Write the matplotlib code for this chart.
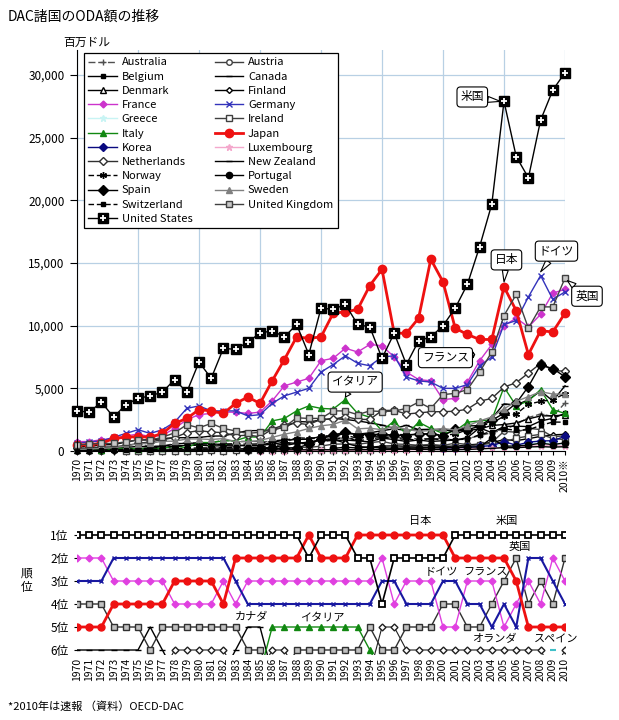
import numpy as np
import matplotlib
matplotlib.use('Agg')
import matplotlib.pyplot as plt
from matplotlib.ticker import FuncFormatter

plt.rcParams['font.family'] = ['Noto Sans CJK JP', 'DejaVu Sans']

years = list(range(1970, 2011))
year_labels = [str(y) for y in years[:-1]] + ['2010※']
N = None

# net ODA, million US$
australia = [210,200,290,290,430,550,380,400,590,630, 670,650,880,750,780,750,750,630,1100,1020,
             960,1050,1020,950,1090,1190,1070,1060,960,980, 990,870,990,1220,1460,1680,2120,2670,2950,2760, 3830]
austria = [10,10,20,40,60,80,50,110,150,130, 180,220,240,160,180,250,200,200,300,280,
           390,550,560,540,660,770,560,530,460,530, 440,630,520,510,680,1570,1500,1810,1710,1140, 1210]
belgium = [120,150,190,230,270,380,340,370,540,640, 600,580,500,480,430,440,550,690,600,700,
           890,830,870,810,730,1030,910,760,880,760, 820,870,1070,1850,1460,1960,1980,1950,2390,2610, 3000]
canada = [340,350,490,510,710,880,890,990,1060,1060, 1080,1190,1200,1430,1620,1630,1690,1890,2350,2320,
          2470,2600,2520,2400,2250,2070,1800,2050,1710,1710, 1740,1530,2000,2030,2600,3760,3680,4080,4790,4000, 5200]
denmark = [60,70,100,130,170,210,210,260,390,460, 480,400,420,400,450,440,700,860,920,940,
           1170,1200,1390,1340,1450,1620,1770,1640,1700,1730, 1660,1630,1640,1750,2040,2110,2240,2560,2800,2810, 2870]
finland = [10,10,20,30,40,50,50,50,60,90, 110,140,140,150,180,210,310,430,610,710,
           850,930,630,360,290,390,410,380,400,420, 370,390,460,560,680,900,830,980,1170,1290, 1330]
france = [750,750,900,1000,1200,1350,1150,1250,1800,2500, 2900,3000,3100,3100,3000,3100,4000,5200,5500,5800,
          7200,7400,8200,7900,8500,8400,7500,6300,5700,5600, 4100,4200,5500,7200,8500,10000,10600,9900,10900,12600, 12900]
germany = [600,730,800,1100,1400,1700,1400,1700,2300,3400, 3600,3200,3200,3200,2800,2900,3800,4400,4700,5000,
           6300,6900,7600,7000,6800,7500,7600,5900,5600,5500, 5000,5000,5300,6800,7500,10100,10400,12300,14000,12100, 12700]
greece = [N]*29 + [190, 230,200,280,360,470,380,420,500,700,610, 510]
ireland = [N,N,N,N,10,10,10,10,10,30, 30,50,30,40,40,40,60,50,60,50,
           60,70,70,80,110,150,180,190,200,250, 230,290,400,500,610,720,1020,1190,1330,1010, 900]
italy = [150,180,100,200,220,180,230,200,380,270, 680,670,810,830,1130,1100,2400,2600,3200,3600,
         3400,3350,4100,3000,2700,1600,2400,1300,2300,1800, 1400,1600,2300,2400,2500,5100,3600,4000,4900,3300, 3000]
japan = [460,510,610,1000,1100,1150,1100,1400,2200,2600, 3300,3200,3000,3800,4300,3800,5600,7300,9100,9000,
         9100,11000,11100,11300,13200,14500,9400,9400,10600,15300, 13500,9800,9300,8900,8900,13100,11200,7700,9600,9500, 11000]
korea = [N]*30 + [210,260,280,370,420,750,460,700,800,820, 1170]
luxembourg = [N]*15 + [10,20,20,30,40, 50,60,70,60,70,70,80,100,110,120,
                       120,140,150,190,240,260,290,380,420,420, 400]
netherlands = [200,220,310,320,440,600,730,900,1070,1470, 1630,1510,1470,1200,1270,1140,1740,2100,2230,2100,
               2540,2520,2750,2520,2520,3230,3250,2950,3040,3130, 3140,3170,3340,3970,4200,5100,5450,6220,6990,6430, 6360]
new_zealand = [10,20,30,30,40,70,50,50,60,70, 70,70,70,60,60,50,80,90,100,90,
               100,100,100,100,110,120,120,150,130,130, 110,110,120,170,210,270,260,320,350,310, 340]
norway = [40,40,60,90,130,180,220,300,360,430, 490,470,560,580,540,570,800,890,990,920,
          1210,1180,1270,1010,1140,1240,1310,1310,1320,1370, 1260,1350,1700,2040,2200,2790,2950,3730,3960,4090, 4580]
portugal = [N]*21 + [210,300,240,310,260,220,250,260,280, 270,270,320,320,1030,380,400,470,620,510, 650]
spain = [N]*14 + [140,170,200,230,240,540, 970,1260,1520,1300,1310,1350,1250,1230,1380,1360,
                  1200,1740,1710,1960,2440,3020,3810,5140,6870,6580, 5920]
sweden = [120,160,200,270,400,570,610,780,780,960, 960,920,990,750,740,840,1090,1340,1530,1800,
          2010,2120,2460,1770,1820,1700,1970,1730,1570,1630, 1800,1670,2010,2400,2720,3360,3960,4340,4730,4550, 4530]
switzerland = [30,30,70,70,70,100,110,120,170,210, 250,240,250,320,290,300,420,550,620,560,
               750,860,1140,790,980,1080,1030,910,900,980, 890,910,940,1300,1550,1770,1650,1690,2040,2310, 2300]
uk = [480,560,600,600,730,900,870,1100,1450,2100, 1850,2200,1800,1600,1400,1500,1700,1900,2650,2600,
      2600,3200,3200,2900,3200,3150,3180,3400,3900,3400, 4500,4600,4900,6300,7900,10800,12500,9800,11500,11500, 13800]
us = [3200,3100,3900,2700,3700,4200,4400,4700,5700,4700, 7100,5800,8200,8100,8700,9400,9600,9100,10100,7700,
      11400,11300,11700,10100,9900,7400,9400,6900,8800,9100, 10000,11400,13300,16300,19700,27900,23500,21800,26400,28800, 30200]

# ranking among DAC donors (7 = just outside the top six)
rank_us = [1]*19 + [2] + [1]*3 + [2]*2 + [4] + [2]*5 + [1]*10
rank_japan = [5]*3 + [4]*5 + [3]*4 + [4] + [2]*6 + [1] + [2]*3 + [1]*8 + [2]*5 + [3] + [5]*4
rank_france = [2]*3 + [3]*5 + [4]*4 + [3] + [4] + [3]*11 + [2] + [4] + [3]*3 + [5]*2 + [3]*3 + [5] + [4] + [3] + [4] + [2] + [3]
rank_germany = [3]*3 + [2]*10 + [3] + [4]*11 + [3]*2 + [4]*3 + [3]*2 + [4]*2 + [5] + [4] + [5] + [2]*2 + [3] + [4]
rank_uk = [4]*3 + [5]*3 + [6] + [5]*7 + [6]*2 + [7]*2 + [6]*6 + [5] + [6]*2 + [5]*3 + [4]*2 + [5]*2 + [4] + [3] + [2] + [4] + [3] + [4] + [2]
rank_italy = [N]*15 + [7] + [5]*8 + [6] + [7] + [N]*15
rank_canada = [6]*6 + [5] + [6] + [7] + [N]*3 + [7] + [6] + [5]*2 + [7] + [N]*24
rank_netherlands = [N]*7 + [7] + [6]*5 + [7]*3 + [6]*2 + [7]*7 + [5]*2 + [6]*12 + [7] + [6]
rank_spain = [N]*39 + [6] + [N]


def arr(v):
    return np.array([np.nan if x is None else x for x in v], dtype=float)


fig = plt.figure(figsize=(6.19, 7.2), dpi=100)
W, H = 619.0, 720.0

# ---------------- main chart ----------------
ax = fig.add_axes([77/W, 1-451/H, 488/W, 401/H])

series = [
    ('Australia', australia, dict(color='#505050', ls=(0, (5, 2)), marker='+', ms=4)),
    ('Austria', austria, dict(color='#404040', marker='o', ms=4, mfc='white')),
    ('Belgium', belgium, dict(color='black', marker='s', ms=3.5)),
    ('Canada', canada, dict(color='black', marker='_', ms=5)),
    ('Denmark', denmark, dict(color='black', marker='^', ms=5, mfc='white')),
    ('Finland', finland, dict(color='black', marker='D', ms=3, mfc='white')),
    ('France', france, dict(color='#CC33CC', marker='D', ms=3.5)),
    ('Germany', germany, dict(color='#3333BB', marker='x', ms=4)),
    ('Greece', greece, dict(color='#C8F4F4', marker='*', ms=5)),
    ('Ireland', ireland, dict(color='#404040', marker='s', ms=4.5, mfc='white')),
    ('Italy', italy, dict(color='#118811', marker='^', ms=5)),
    ('Japan', japan, dict(color='#EE1111', marker='o', ms=6, lw=2)),
    ('Korea', korea, dict(color='#0A0A80', marker='D', ms=4.5)),
    ('Luxembourg', luxembourg, dict(color='#F4A8CC', marker='*', ms=5)),
    ('Netherlands', netherlands, dict(color='#303030', marker='D', ms=4, mfc='white')),
    ('New Zealand', new_zealand, dict(color='black', marker='_', ms=5)),
    ('Norway', norway, dict(color='black', ls=(0, (4, 2)), marker=(6, 2, 0), ms=5)),
    ('Portugal', portugal, dict(color='black', marker='o', ms=4.5)),
    ('Spain', spain, dict(color='black', marker='D', ms=5)),
    ('Sweden', sweden, dict(color='#808080', marker='^', ms=5)),
    ('Switzerland', switzerland, dict(color='black', ls=(0, (4, 2)), marker='s', ms=2.5)),
    ('United Kingdom', uk, dict(color='#404040', marker='s', ms=4.5, mfc='#C8C8C8')),
]

handles = []
for name, vals, st in series:
    st = dict(st)
    st.setdefault('lw', 1)
    h, = ax.plot(years, arr(vals), label=name, clip_on=False, **st)
    handles.append(h)

# United States: black square with a white cross
us_line, = ax.plot(years, us, color='black', lw=1, marker='s', ms=7.5, clip_on=False, zorder=5)
us_plus, = ax.plot(years, us, ls='none', marker='+', ms=5, mew=1.3, color='white', clip_on=False, zorder=6)
handles.append((us_line, us_plus))
labels = [s[0] for s in series] + ['United States']

# legend filled row by row, as in the original
n = len(labels)
order = list(range(0, n, 2)) + list(range(1, n, 2))
leg = ax.legend([handles[i] for i in order], [labels[i] for i in order], ncol=2, loc='upper left',
                bbox_to_anchor=(0.014, 0.9925), fontsize=8, handlelength=2.6, labelspacing=0.38,
                columnspacing=2.0, handletextpad=0.4, borderpad=0.4, borderaxespad=0,
                fancybox=False, framealpha=1, edgecolor='black')
leg.get_frame().set_linewidth(0.9)
leg.set_zorder(20)

ax.set_xlim(1970, 2010)
ax.set_ylim(0, 32000)
ax.set_yticks(range(0, 30001, 5000))
ax.yaxis.set_major_formatter(FuncFormatter(lambda v, p: f'{v:,.0f}'))
ax.set_xticks(years)
ax.set_xticklabels(year_labels, rotation=90, fontsize=7.5)
ax.tick_params(axis='y', labelsize=8.5, length=5, pad=4)
ax.tick_params(axis='x', length=3, pad=2)
ax.yaxis.grid(True, color='#B8D0E4', lw=0.9)
for yr in years[::5]:
    ax.axvline(yr, color='#B8D0E4', lw=0.9, zorder=0)
ax.set_axisbelow(True)
for s in ['top', 'right']:
    ax.spines[s].set_visible(False)


def bubble(a, text, xy, xytext):
    a.annotate(text, xy=xy, xytext=xytext, fontsize=8.5, ha='center', va='center',
               bbox=dict(boxstyle='round,pad=0.3', fc='white', ec='black', lw=0.8),
               arrowprops=dict(arrowstyle='wedge,tail_width=0.5', fc='white', ec='black', lw=0.8,
                               shrinkA=0, shrinkB=0),
               annotation_clip=False, zorder=15)


bubble(ax, '米国', (2004.7, 27900), (2002.4, 28250))
bubble(ax, '日本', (2005.0, 13500), (2005.2, 15250))
bubble(ax, 'ドイツ', (2008.0, 14300), (2009.3, 15950))
bubble(ax, '英国', (2010.2, 13600), (2011.8, 12350))
bubble(ax, 'フランス', (2002.6, 7700), (2000.2, 7450))
bubble(ax, 'イタリア', (1992.0, 4300), (1992.8, 5500))

fig.text(8/W, 1-17/H, 'DAC諸国のODA額の推移', fontsize=10, va='center', ha='left')
fig.text(63/W, 1-42/H, '百万ドル', fontsize=8.5, va='center', ha='left')

# ---------------- ranking chart ----------------
ax2 = fig.add_axes([77/W, 1-654.6/H, 488/W, 128.8/H])
rank_styles = [
    (rank_netherlands, dict(color='#202020', lw=0.8, marker='D', ms=3.5, mfc='white', mec='#202020')),
    (rank_canada, dict(color='black', lw=1, marker='_', ms=5)),
    (rank_italy, dict(color='#118811', lw=1, marker='^', ms=4.5)),
    (rank_spain, dict(color='#40C0C8', lw=1, marker='_', ms=5, mew=1.5)),
    (rank_uk, dict(color='#303030', lw=1, marker='s', ms=4, mfc='#C0C0C0', mec='#303030')),
    (rank_france, dict(color='#E040E0', lw=1, marker='D', ms=3.5)),
    (rank_germany, dict(color='#1818A0', lw=1.5, marker='x', ms=3.5)),
    (rank_japan, dict(color='#EE1111', lw=2, marker='o', ms=5)),
    (rank_us, dict(color='black', lw=1.2, marker='s', ms=4, mfc='white', mec='black', mew=1.3)),
]
for vals, st in rank_styles:
    ax2.plot(years, arr(vals), **st)

ax2.set_xlim(1970, 2010)
ax2.set_ylim(6.2, 0.6)
ax2.set_yticks(range(1, 7))
ax2.set_yticklabels([f'{i}位' for i in range(1, 7)], fontsize=8.5)
ax2.set_xticks(years)
ax2.set_xticklabels([str(y) for y in years], rotation=90, fontsize=7.5)
ax2.tick_params(axis='y', length=2, pad=4)
ax2.tick_params(axis='x', length=0, pad=2)
for s in ax2.spines.values():
    s.set_visible(False)

for txt, x, y in [('日本', 1998.1, 0.4), ('米国', 2005.2, 0.4), ('英国', 2006.3, 1.52),
                  ('ドイツ', 1999.9, 2.6), ('フランス', 2003.5, 2.6), ('カナダ', 1984.3, 4.57),
                  ('イタリア', 1990.1, 4.6), ('オランダ', 2004.2, 5.52), ('スペイン', 2009.3, 5.57)]:
    ax2.text(x, y, txt, fontsize=8, ha='center', va='center')

fig.text(27/W, 1-580/H, '順\n位', fontsize=8.5, ha='center', va='center', linespacing=1.2)
fig.text(8/W, 1-707/H, '*2010年は速報 （資料）OECD-DAC', fontsize=8, ha='left', va='center')

fig.savefig('out.png', dpi=100)
